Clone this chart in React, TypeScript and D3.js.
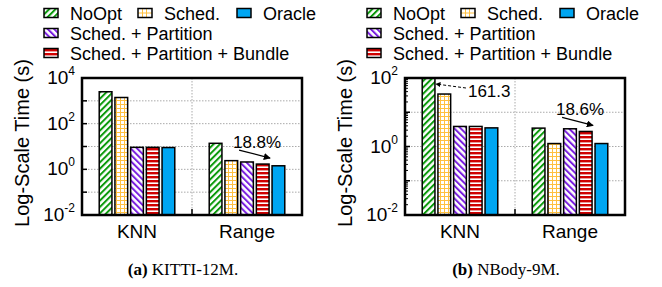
import React from 'react'
import * as d3 from 'd3'

const categories = ['KNN', 'Range']
const series = ['NoOpt', 'Sched.', 'Sched. + Partition', 'Sched. + Partition + Bundle', 'Oracle']
const kittiKnn = [2500, 1400, 9.2, 9.2, 9.0]
const kittiRange = [13.8, 2.4, 2.1, 1.7, 1.43]
const nbodyKnn = [161.3, 34, 3.85, 3.85, 3.5]
const nbodyRange = [3.44, 1.22, 3.29, 2.75, 1.22]
const kittiExps = [-2, 0, 2, 4]
const nbodyExps = [-2, 0, 2]

const fills = ['url(#pNoOpt)', 'url(#pSched)', 'url(#pPart)', 'url(#pBundle)', '#00A6F2']
const font = 'Liberation Sans, Arial, sans-serif'
const schedColor = '#FFC040'

const top = 78
const bottom = 215
const plotW = 220

function Swatch({ si }: { si: number }) {
  if (si !== 1) {
    return <rect x={0} y={-4.5} width={14} height={9} fill={fills[si]} stroke="#000" strokeWidth={1.5} />
  }
  // grid swatch drawn by hand so it renders crisply at any position
  return (
    <g>
      <rect x={0} y={-4.5} width={14} height={9} fill="#fff" />
      {[4.5, 8.5].map(x => <line key={`v${x}`} x1={x} x2={x} y1={-4.5} y2={4.5} stroke={schedColor} strokeWidth={1} />)}
      {[0].map(yy => <line key={`h${yy}`} x1={0} x2={14} y1={yy} y2={yy} stroke={schedColor} strokeWidth={1} />)}
      <rect x={0} y={-4.5} width={14} height={9} fill="none" stroke="#000" strokeWidth={1.5} />
    </g>
  )
}

function Panel({ left, values, exps, minor, caption, tag, note, noteIdx }: any) {
  const y = d3.scaleLog().domain([1e-2, 10 ** exps[exps.length - 1]]).range([bottom, top])
  const gx = d3.scaleBand().domain(categories).range([left, left + plotW]).paddingInner(0.286).paddingOuter(0.143)
  const bx = d3.scaleBand().domain(series).range([0, gx.bandwidth()]).paddingInner(0.19).paddingOuter(0.095)
  const lo = exps[0]
  const hi = exps[exps.length - 1]
  const decades = d3.range(lo, hi + 1)
  const minors: number[] = []
  if (minor) decades.slice(0, -1).forEach(e => d3.range(2, 10).forEach(m => minors.push(m * 10 ** e)))
  const clipId = `clip${left}`
  const mid = left + plotW / 2
  const legendX = left - 38
  const rows = [
    [[0, 0], [1, 94], [4, 193]],
    [[2, 0]],
    [[3, 0]],
  ]
  // annotation anchor: Range bundle bar
  const rBar = (gx('Range') as number) + (bx(series[noteIdx]) as number)
  const rRight = rBar + bx.bandwidth()
  const rTop = y(values[1][noteIdx])
  return (
    <g>
      <clipPath id={clipId}>
        <rect x={left} y={top} width={plotW} height={bottom - top} />
      </clipPath>
      {/* legend */}
      {rows.map((row, ri) =>
        row.map(([si, dx]) => (
          <g key={`${ri}-${si}`} transform={`translate(${legendX + dx},${13 + ri * 20})`}>
            <Swatch si={si} />
            <text x={26} y={6.5} fontSize={18} fontFamily={font}>{series[si]}</text>
          </g>
        ))
      )}
      {/* grid */}
      {decades.slice(1, -1).map(e => (
        <line key={`g${e}`} x1={left} x2={left + plotW} y1={y(10 ** e)} y2={y(10 ** e)} stroke="#aaa" strokeDasharray="1.5,1.5" />
      ))}
      <line x1={mid} x2={mid} y1={top} y2={bottom} stroke="#aaa" strokeDasharray="1.5,1.5" />
      {/* bars */}
      <g clipPath={`url(#${clipId})`}>
        {categories.map((c, ci) =>
          values[ci].map((v: number, si: number) => (
            <rect
              key={`${c}${si}`}
              x={(gx(c) as number) + (bx(series[si]) as number)}
              y={y(v)}
              width={bx.bandwidth()}
              height={bottom - y(v)}
              fill={fills[si]}
              stroke="#000"
              strokeWidth={1.5}
            />
          ))
        )}
      </g>
      {/* ticks */}
      {decades.map(e => (
        <line key={`t${e}`} x1={left} x2={left + 5} y1={y(10 ** e)} y2={y(10 ** e)} stroke="#000" strokeWidth={1.5} />
      ))}
      {minors.map(m => (
        <line key={`m${m}`} x1={left} x2={left + 3} y1={y(m)} y2={y(m)} stroke="#000" strokeWidth={1} />
      ))}
      <line x1={mid} x2={mid} y1={bottom} y2={bottom - 6} stroke="#000" strokeWidth={1.5} />
      <rect x={left} y={top} width={plotW} height={bottom - top} fill="none" stroke="#000" strokeWidth={2.5} />
      {/* tick labels */}
      {exps.map((e: number) => (
        <text key={`l${e}`} x={left - 7} y={y(10 ** e) + 6} textAnchor="end" fontFamily={font} fontSize={19}>
          10<tspan fontSize={12} dy={-9}>{e}</tspan>
        </text>
      ))}
      {categories.map(c => (
        <text key={c} x={(gx(c) as number) + gx.bandwidth() / 2} y={238} textAnchor="middle" fontFamily={font} fontSize={19}>{c}</text>
      ))}
      <text transform={`translate(${left - 53},${143}) rotate(-90)`} textAnchor="middle" fontFamily={font} fontSize={20}>Log-Scale Time (s)</text>
      {/* annotation */}
      <line x1={rRight - 30} y1={rTop - 14} x2={rRight + 1} y2={rTop - 6} stroke="#000" strokeWidth={1.2} markerEnd="url(#arrow)" />
      <text x={rRight - 12} y={rTop - 16} textAnchor="middle" fontFamily={font} fontSize={17}>{note}</text>
      {/* caption */}
      <text x={left + 101} y={275} textAnchor="middle" fontFamily="Liberation Serif, serif" fontSize={17}>
        <tspan fontWeight="bold">{tag}</tspan> {caption}
      </text>
    </g>
  )
}

export default function App() {
  const yR = d3.scaleLog().domain([1e-2, 1e2]).range([bottom, top])
  const gx = d3.scaleBand().domain(categories).range([405, 405 + plotW]).paddingInner(0.286).paddingOuter(0.143)
  const bx = d3.scaleBand().domain(series).range([0, gx.bandwidth()]).paddingInner(0.19).paddingOuter(0.095)
  const noRight = (gx('KNN') as number) + (bx(series[0]) as number) + bx.bandwidth()
  const noY = yR(1e2) + 6
  return (
    <svg width={662} height={287} style={{ position: 'absolute', left: 0, top: 0, background: '#fff' }}>
      <defs>
        <pattern id="pNoOpt" patternUnits="userSpaceOnUse" width={4.5} height={4.5} patternTransform="rotate(45)">
          <rect width={4.5} height={4.5} fill="#fff" />
          <line x1={1} y1={0} x2={1} y2={4.5} stroke="#0C9A0C" strokeWidth={2} />
        </pattern>
        <pattern id="pPart" patternUnits="userSpaceOnUse" width={4.5} height={4.5} patternTransform="rotate(-45)">
          <rect width={4.5} height={4.5} fill="#fff" />
          <line x1={1} y1={0} x2={1} y2={4.5} stroke="#7A1FE0" strokeWidth={2} />
        </pattern>
        <pattern id="pSched" patternUnits="userSpaceOnUse" width={4} height={4}>
          <rect width={4} height={4} fill="#fff" />
          <line x1={0.5} y1={0} x2={0.5} y2={4} stroke={schedColor} strokeWidth={1} />
          <line x1={0} y1={0.5} x2={4} y2={0.5} stroke={schedColor} strokeWidth={1} />
        </pattern>
        <pattern id="pBundle" patternUnits="userSpaceOnUse" width={4} height={4}>
          <rect width={4} height={4} fill="#fff" />
          <rect y={0} width={4} height={2.4} fill="#D00000" />
        </pattern>
        <marker id="arrow" viewBox="0 0 10 10" refX={9} refY={5} markerWidth={7} markerHeight={7} markerUnits="userSpaceOnUse" orient="auto">
          <path d="M0,0 L10,5 L0,10 z" fill="#000" />
        </marker>
        <marker id="arrowS" viewBox="0 0 10 10" refX={9} refY={5} markerWidth={5} markerHeight={5} markerUnits="userSpaceOnUse" orient="auto">
          <path d="M0,0 L10,5 L0,10 z" fill="#000" />
        </marker>
      </defs>
      <Panel left={82} values={[kittiKnn, kittiRange]} exps={kittiExps} minor={false} tag="(a)" caption="KITTI-12M." note="18.8%" noteIdx={3} />
      <Panel left={405} values={[nbodyKnn, nbodyRange]} exps={nbodyExps} minor={true} tag="(b)" caption="NBody-9M." note="18.6%" noteIdx={3} />
      <line x1={noRight + 31} y1={noY + 4} x2={noRight + 1} y2={noY} stroke="#000" strokeWidth={1} strokeDasharray="3,2" markerEnd="url(#arrowS)" />
      <text x={noRight + 33} y={noY + 13} fontFamily={font} fontSize={17}>{nbodyKnn[0]}</text>
    </svg>
  )
}
